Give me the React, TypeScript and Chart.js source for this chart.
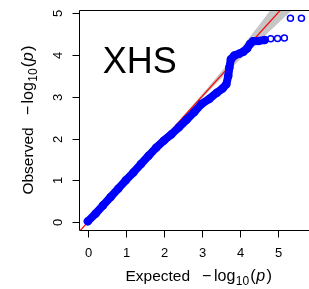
import React, { useEffect, useRef } from 'react';
import { Chart, registerables } from 'chart.js';

Chart.register(...registerables);

// Observed vs expected -log10(p)
const expectedMain = [0, 0.2, 0.4, 0.6, 0.8, 1.0, 1.2, 1.4, 1.6, 1.8, 2.0, 2.2, 2.4, 2.6, 2.8, 3.0, 3.2, 3.4, 3.55, 3.65, 3.7, 3.73, 3.77, 3.86, 4.0, 4.1, 4.2, 4.28, 4.35, 4.5, 4.66];
const observedMain = [0.02, 0.2, 0.4, 0.6, 0.8, 1.0, 1.19, 1.39, 1.59, 1.78, 1.95, 2.1, 2.27, 2.45, 2.63, 2.83, 2.95, 3.1, 3.2, 3.3, 3.5, 3.7, 3.9, 3.99, 4.04, 4.08, 4.16, 4.27, 4.33, 4.34, 4.36];
const expectedTail = [4.82, 5.0, 5.18, 5.34, 5.63];
const observedTail = [4.39, 4.4, 4.41, 4.88, 4.88];

// confidence band around y = x
const bandX = [0, 1, 2, 2.5, 3, 3.5, 4, 4.5, 5, 5.5, 6.1];
const bandUpper = [0.01, 1.01, 2.02, 2.53, 3.05, 3.58, 4.13, 4.7, 5.3, 5.88, 6.55];
const bandLower = [-0.01, 0.99, 1.98, 2.47, 2.96, 3.43, 3.89, 4.32, 4.75, 5.18, 5.68];

const refLineX = [-0.5, 6.5];

const xTicks = [0, 1, 2, 3, 4, 5, 6];
const yTicks = [0, 1, 2, 3, 4, 5];
const xTitleWord = 'Expected';
const yTitleWord = 'Observed';
const panelLabel = 'XHS';

const FONT = '"Liberation Sans", Arial, Helvetica, sans-serif';

function drawMathLabel(ctx: CanvasRenderingContext2D, word: string, cx: number, baseY: number) {
  const parts = [
    { t: word, f: `15.5px ${FONT}`, dy: 0, gap: 12 },
    { t: '\u2212', f: `16px ${FONT}`, dy: 0, gap: 2.5 },
    { t: 'log', f: `16px ${FONT}`, dy: 0, gap: 0.5 },
    { t: '10', f: `12px ${FONT}`, dy: 4, gap: 1 },
    { t: '(', f: `16.5px ${FONT}`, dy: 0, gap: 0.5 },
    { t: 'p', f: `italic 16px ${FONT}`, dy: 0, gap: 1.5 },
    { t: ')', f: `16.5px ${FONT}`, dy: 0, gap: 0 },
  ];
  let total = 0;
  const widths = parts.map((p) => {
    ctx.font = p.f;
    const w = ctx.measureText(p.t).width;
    total += w + p.gap;
    return w;
  });
  let x = cx - total / 2;
  ctx.textAlign = 'left';
  ctx.textBaseline = 'alphabetic';
  parts.forEach((p, i) => {
    ctx.font = p.f;
    ctx.fillText(p.t, x, baseY + p.dy);
    x += widths[i] + p.gap;
  });
}

const rAxesPlugin = {
  id: 'rAxes',
  afterDraw(chart: any) {
    const { ctx, chartArea: a } = chart;
    const xs = chart.scales.x;
    const ys = chart.scales.y;
    ctx.save();
    ctx.strokeStyle = '#000';
    ctx.fillStyle = '#000';
    ctx.lineWidth = 1;
    const L = Math.round(a.left) + 0.5;
    const T = Math.round(a.top) + 0.5;
    const R = Math.round(a.right) + 0.5;
    const B = Math.round(a.bottom) + 0.5;
    ctx.beginPath();
    ctx.moveTo(L, T);
    ctx.lineTo(R, T);
    ctx.lineTo(R, B);
    ctx.lineTo(L, B);
    ctx.closePath();
    ctx.stroke();

    ctx.font = `13px ${FONT}`;
    ctx.textAlign = 'center';
    ctx.textBaseline = 'middle';
    xTicks.forEach((v) => {
      const px = Math.round(xs.getPixelForValue(v)) + 0.5;
      if (px > a.right) return;
      ctx.beginPath();
      ctx.moveTo(px, B);
      ctx.lineTo(px, B + 7);
      ctx.stroke();
      ctx.fillText(String(v), px, B + 22.5);
    });
    yTicks.forEach((v) => {
      const py = Math.round(ys.getPixelForValue(v)) + 0.5;
      ctx.beginPath();
      ctx.moveTo(L, py);
      ctx.lineTo(L - 7, py);
      ctx.stroke();
      ctx.save();
      ctx.translate(L - 21.5, py);
      ctx.rotate(-Math.PI / 2);
      ctx.fillText(String(v), 0, 0);
      ctx.restore();
    });

    // axis titles
    drawMathLabel(ctx, xTitleWord, (a.left + a.right) / 2, 281);
    ctx.save();
    ctx.translate(32.5, (a.top + a.bottom) / 2);
    ctx.rotate(-Math.PI / 2);
    drawMathLabel(ctx, yTitleWord, 0, 0);
    ctx.restore();

    // panel label
    ctx.font = `36px ${FONT}`;
    ctx.textAlign = 'left';
    ctx.textBaseline = 'alphabetic';
    ctx.fillText(panelLabel, xs.getPixelForValue(0.39), ys.getPixelForValue(3.56));
    ctx.restore();
  },
};

export default function App() {
  const ref = useRef<HTMLCanvasElement | null>(null);
  useEffect(() => {
    if (!ref.current) return;
    const chart = new Chart(ref.current, {
      type: 'scatter',
      data: {
        datasets: [
          {
            data: expectedMain.map((x, i) => ({ x, y: observedMain[i] })),
            showLine: true,
            borderColor: '#0000ff',
            borderWidth: 8,
            borderJoinStyle: 'round',
            borderCapStyle: 'round',
            pointRadius: 3.5,
            pointBorderWidth: 1.5,
            pointBorderColor: '#0000ff',
            pointBackgroundColor: 'rgba(0,0,0,0)',
            order: 1,
          } as any,
          {
            data: expectedTail.map((x, i) => ({ x, y: observedTail[i] })),
            showLine: false,
            pointRadius: 3,
            pointBorderWidth: 1.5,
            pointBorderColor: '#0000ff',
            pointBackgroundColor: 'rgba(0,0,0,0)',
            order: 1,
          },
          {
            data: refLineX.map((x) => ({ x, y: x })),
            showLine: true,
            borderColor: '#ff0000',
            borderWidth: 1.2,
            pointRadius: 0,
            order: 2,
          },
          {
            data: bandX.map((x, i) => ({ x, y: bandLower[i] })),
            showLine: true,
            borderColor: 'rgba(0,0,0,0)',
            borderWidth: 0,
            pointRadius: 0,
            fill: false,
            order: 3,
          },
          {
            data: bandX.map((x, i) => ({ x, y: bandUpper[i] })),
            showLine: true,
            borderColor: 'rgba(0,0,0,0)',
            borderWidth: 0,
            pointRadius: 0,
            backgroundColor: '#c6c6c6',
            fill: '-1',
            order: 3,
          },
        ],
      },
      options: {
        animation: false,
        responsive: false,
        layout: { padding: { top: 10, right: 2, left: 0, bottom: 0 } },
        plugins: { legend: { display: false }, tooltip: { enabled: false } },
        scales: {
          x: {
            type: 'linear',
            min: -0.234,
            max: 6.08,
            ticks: { display: false },
            grid: { display: false },
            border: { display: false },
            afterFit: (s: any) => { s.height = 59; },
          },
          y: {
            type: 'linear',
            min: -0.19,
            max: 5.08,
            ticks: { display: false },
            grid: { display: false },
            border: { display: false },
            afterFit: (s: any) => { s.width = 79; },
          },
        },
      },
      plugins: [rAxesPlugin],
    });
    return () => chart.destroy();
  }, []);
  return (
    <div style={{ position: 'fixed', left: 0, top: 0, width: 309, height: 289, overflow: 'hidden', background: '#fff' }}>
      <canvas ref={ref} width={324} height={289} style={{ display: 'block' }} />
    </div>
  );
}
